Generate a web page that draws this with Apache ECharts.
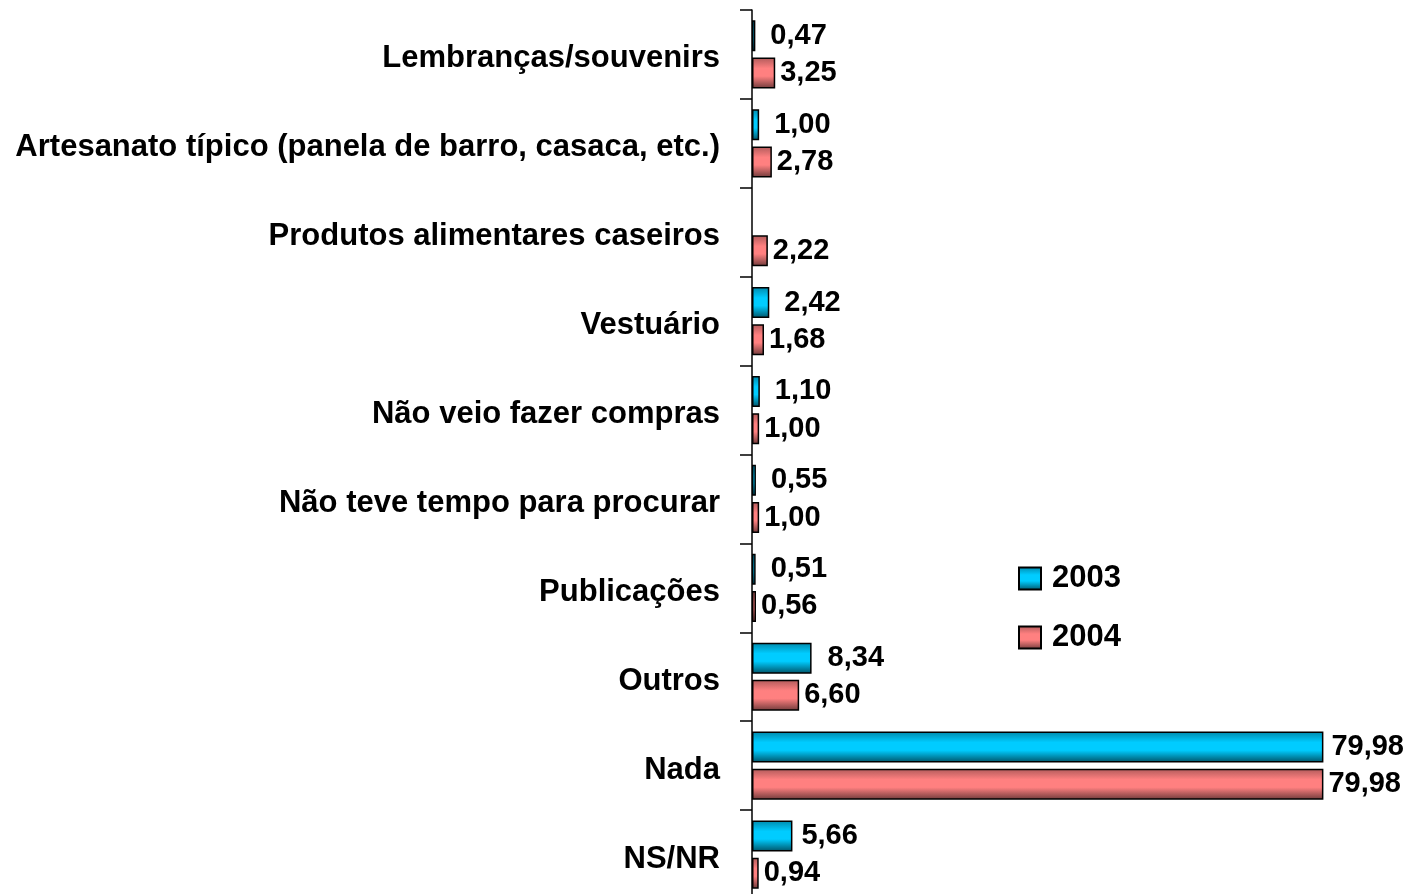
<!DOCTYPE html>
<html>
<head>
<meta charset="utf-8">
<script src="https://cdn.jsdelivr.net/npm/echarts@6/dist/echarts.min.js"></script>
<style>
  html, body { margin: 0; padding: 0; background: #fff; }
  #grafico { width: 1405px; height: 894px; }
</style>
</head>
<body>
<div id="grafico"></div>
<script>
// dados
const categorias = [
  'Lembranças/souvenirs',
  'Artesanato típico (panela de barro, casaca, etc.)',
  'Produtos alimentares caseiros',
  'Vestuário',
  'Não veio fazer compras',
  'Não teve tempo para procurar',
  'Publicações',
  'Outros',
  'Nada',
  'NS/NR'
];
const valores2003 = [0.47, 1.00, 0.41, 2.42, 1.10, 0.55, 0.51, 8.34, 79.98, 5.66];
const valores2004 = [3.25, 2.78, 2.22, 1.68, 1.00, 1.00, 0.56, 6.60, 79.98, 0.94];

const fonte = '"Liberation Sans", Arial, sans-serif';

function grad(c0, c1, c2) {
  return new echarts.graphic.LinearGradient(0, 0, 0, 1, [
    { offset: 0, color: c0 },
    { offset: 0.35, color: c1 },
    { offset: 0.6, color: c1 },
    { offset: 1, color: c2 }
  ]);
}
const corAzul = grad('#0088aa', '#00ccff', '#005266');
const corVermelha = grad('#b05a5a', '#ff8080', '#6e3a3a');

function rotulo(v) {
  return v.toFixed(2).replace('.', ',');
}

// distancia do rotulo 2003 (as barras longas tem o texto mais perto)
function dist2003(v) {
  return v > 5 ? (v > 50 ? 8 : (v > 6 && v < 9 ? 16 : 9)) : 15;
}

document.addEventListener('DOMContentLoaded', function () {
  const chart = echarts.init(document.getElementById('grafico'));

  chart.setOption({
    animation: false,
    backgroundColor: '#ffffff',
    grid: { left: 752, right: 10, top: 10, height: 889, containLabel: false, outerBoundsMode: 'none' },
    legend: {
      orient: 'vertical',
      left: 1013,
      top: 558,
      icon: 'rect',
      itemWidth: 22,
      itemHeight: 22,
      itemGap: 28,
      textStyle: { fontFamily: fonte, fontWeight: 'bold', fontSize: 31, color: '#000', padding: [0, 0, 0, 6] },
      data: ['2003', '2004']
    },
    xAxis: {
      type: 'value',
      min: 0,
      max: 90,
      show: false
    },
    yAxis: {
      type: 'category',
      inverse: true,
      data: categorias,
      axisLine: { show: true, lineStyle: { color: '#000', width: 1.5 } },
      axisTick: { show: true, length: 12, lineStyle: { color: '#000', width: 1.5 } },
      axisLabel: {
        margin: 32,
        color: '#000',
        fontFamily: fonte,
        fontWeight: 'bold',
        fontSize: 31,
        formatter: v => '{a|' + v + '}',
        rich: {
          a: {
            color: '#000',
            fontFamily: fonte,
            fontWeight: 'bold',
            fontSize: 31,
            padding: [9, 0, 0, 0]
          }
        }
      }
    },
    series: [
      {
        name: '2003',
        type: 'bar',
        barWidth: 31,
        barGap: '20%',
        itemStyle: { color: corAzul, borderColor: '#000', borderWidth: 1.5 },
        label: {
          show: true,
          position: 'right',
          color: '#000',
          fontFamily: fonte,
          fontWeight: 'bold',
          fontSize: 29,
          formatter: p => rotulo(p.value)
        },
        data: valores2003.map((v, i) => ({
          value: v,
          label: { distance: dist2003(v) },
          itemStyle: i === 2 ? { opacity: 0 } : undefined
        }))
      },
      {
        name: '2004',
        type: 'bar',
        barWidth: 31,
        itemStyle: { color: corVermelha, borderColor: '#000', borderWidth: 1.5 },
        label: {
          show: true,
          position: 'right',
          distance: 5,
          color: '#000',
          fontFamily: fonte,
          fontWeight: 'bold',
          fontSize: 29,
          formatter: p => rotulo(p.value)
        },
        data: valores2004
      }
    ]
  });
});
</script>
</body>
</html>
